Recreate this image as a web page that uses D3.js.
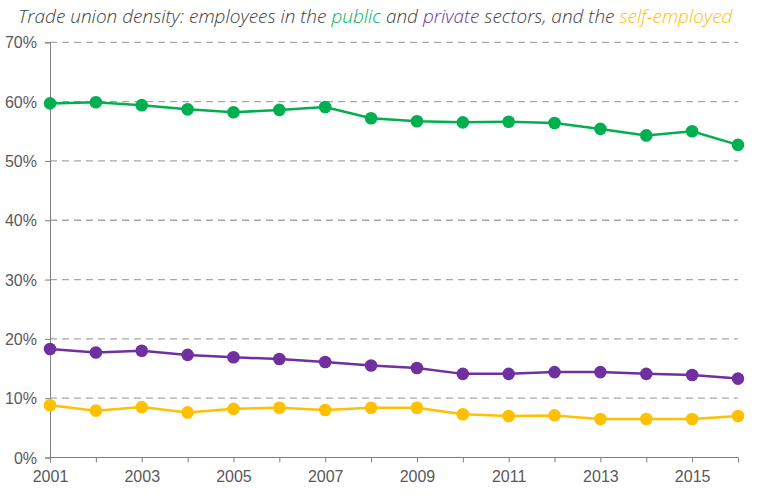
<!DOCTYPE html>
<html><head><meta charset="utf-8">
<script src="https://cdn.jsdelivr.net/npm/d3@7"></script>
<style>
body{margin:0;background:#fff;}
svg{display:block;font-family:Lato,"Open Sans",sans-serif;}
</style></head><body>
<svg id="c" width="768" height="504"></svg>
<script>
const years = [2001,2002,2003,2004,2005,2006,2007,2008,2009,2010,2011,2012,2013,2014,2015,2016];
const publicSector = [59.7,59.9,59.4,58.7,58.2,58.6,59.1,57.2,56.7,56.5,56.6,56.4,55.4,54.3,55.0,52.7];
const privateSector = [18.3,17.7,18.0,17.3,16.9,16.6,16.1,15.5,15.1,14.1,14.1,14.4,14.4,14.1,13.9,13.3];
const selfEmployed = [8.8,7.9,8.5,7.6,8.2,8.4,8.0,8.4,8.4,7.3,7.0,7.1,6.5,6.5,6.5,7.0];
const yTicks = [0,10,20,30,40,50,60,70];
const xLabelYears = [2001,2003,2005,2007,2009,2011,2013,2015];

const series = [
  {name:"public", values:publicSector, color:"#00B050"},
  {name:"private", values:privateSector, color:"#7030A0"},
  {name:"self", values:selfEmployed, color:"#FFC000"}
];

const svg = d3.select("#c");
const x = d3.scaleLinear().domain([2001,2016]).range([50,738]);
const y = d3.scaleLinear().domain([0,70]).range([457.5,42.3]);

// grid
svg.append("g").selectAll("line").data(yTicks.filter(d=>d>0)).join("line")
  .attr("x1",50).attr("x2",738).attr("y1",d=>y(d)).attr("y2",d=>y(d))
  .attr("stroke","#a6a6a6").attr("stroke-width",1.3).attr("stroke-dasharray","7,5");

// y axis
const ya = svg.append("g").attr("transform","translate(50,0)")
  .call(d3.axisLeft(y).tickValues(yTicks).tickSize(5).tickPadding(8).tickFormat(d=>d+"%"));
ya.select(".domain").attr("stroke","#7f7f7f");
ya.selectAll(".tick line").attr("stroke","#7f7f7f");
ya.selectAll("text").attr("font-size",16).attr("fill","#595959").attr("font-weight",300).attr("dy","0.35em");

// x axis
const xa = svg.append("g").attr("transform","translate(0,457.5)")
  .call(d3.axisBottom(x).tickValues(years).tickSize(5).tickPadding(8)
    .tickFormat(d=>xLabelYears.includes(d)?String(d):""));
xa.select(".domain").attr("stroke","#7f7f7f").attr("d","M50,0H738");
xa.selectAll(".tick line").attr("stroke","#7f7f7f");
xa.selectAll("text").attr("font-size",16).attr("fill","#595959").attr("font-weight",300);

// lines
const line = d3.line().x((d,i)=>x(years[i])).y(d=>y(d));
series.forEach(s=>{
  svg.append("path").datum(s.values).attr("d",line)
    .attr("fill","none").attr("stroke",s.color).attr("stroke-width",2.5);
  svg.append("g").selectAll("circle").data(s.values).join("circle")
    .attr("cx",(d,i)=>x(years[i])).attr("cy",d=>y(d)).attr("r",6.3)
    .attr("fill",s.color);
});

// title
const t = svg.append("text").attr("x",18).attr("y",23)
  .attr("font-family","'Open Sans',sans-serif")
  .attr("font-size",17).attr("font-style","italic").attr("font-weight",300).attr("fill","#404040");
t.append("tspan").text("Trade union density: employees in the ");
t.append("tspan").text("public").attr("fill","#00B050");
t.append("tspan").text(" and ");
t.append("tspan").text("private").attr("fill","#7030A0");
t.append("tspan").text(" sectors, and the ");
t.append("tspan").text("self-employed").attr("fill","#FFC000");
const w = t.node().getBBox().width;
t.attr("font-size", 17*715/w);
</script>
</body></html>
